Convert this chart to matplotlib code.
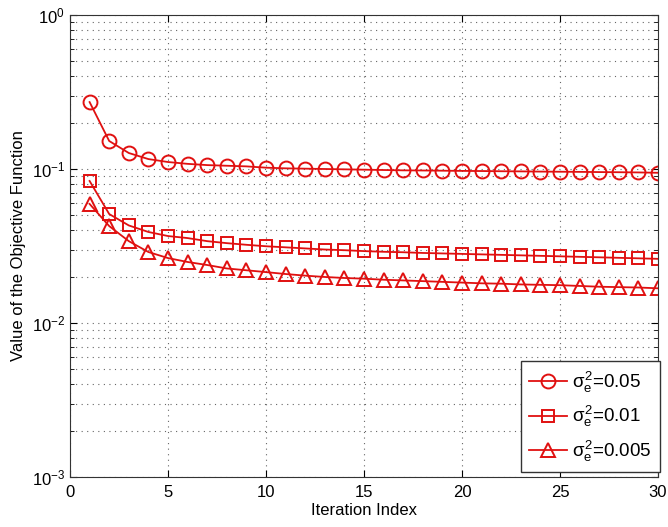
import matplotlib
matplotlib.use("Agg")
import matplotlib.pyplot as plt
from matplotlib.ticker import LogLocator, NullFormatter

iterations = list(range(1, 31))
obj_005 = [0.272, 0.152, 0.127, 0.116, 0.111, 0.108, 0.106, 0.105, 0.104, 0.102,
           0.101, 0.1005, 0.100, 0.0995, 0.099, 0.0985, 0.098, 0.0978, 0.0975, 0.0972,
           0.097, 0.0967, 0.0965, 0.0962, 0.096, 0.0958, 0.0955, 0.0953, 0.095, 0.0945]
obj_001 = [0.0836, 0.051, 0.043, 0.039, 0.0367, 0.0356, 0.034, 0.033, 0.0322, 0.0315,
           0.031, 0.0305, 0.030, 0.0297, 0.0293, 0.029, 0.0288, 0.0285, 0.0283, 0.0281,
           0.0279, 0.0277, 0.0275, 0.0273, 0.0271, 0.0269, 0.0267, 0.0265, 0.0263, 0.0261]
obj_0005 = [0.0593, 0.0426, 0.034, 0.0289, 0.0264, 0.0249, 0.0238, 0.0226, 0.022, 0.0214,
            0.0208, 0.0203, 0.0199, 0.0196, 0.0194, 0.0191, 0.0189, 0.0187, 0.0185, 0.0183,
            0.0181, 0.018, 0.0178, 0.0177, 0.0176, 0.0174, 0.0172, 0.0171, 0.017, 0.0168]
labels = [r'$\sigma_e^2$=0.05', r'$\sigma_e^2$=0.01', r'$\sigma_e^2$=0.005']

plt.rcParams['font.family'] = ['Liberation Sans', 'DejaVu Sans']
plt.rcParams['mathtext.fontset'] = 'custom'
plt.rcParams['mathtext.rm'] = 'Liberation Sans'
plt.rcParams['mathtext.it'] = 'Liberation Sans'

W, H = 668, 527
fig = plt.figure(figsize=(W/100, H/100), dpi=100)
ax = fig.add_axes([70/W, 1-477/H, 588/W, 462/H])
red = '#e01010'
mk = dict(color=red, lw=1.3, markerfacecolor='none', markeredgewidth=1.4)
ax.plot(iterations, obj_005, marker='o', markersize=10, label=labels[0], **mk)
ax.plot(iterations, obj_001, marker='s', markersize=8, label=labels[1], **mk)
ax.plot(iterations, obj_0005, marker='^', markersize=10, label=labels[2], **mk)

ax.set_yscale('log')
ax.set_xlim(0, 30)
ax.set_ylim(1e-3, 1)
ax.set_xticks([0, 5, 10, 15, 20, 25, 30])
ax.yaxis.set_minor_locator(LogLocator(base=10, subs=range(2, 10)))
ax.yaxis.set_minor_formatter(NullFormatter())
ax.grid(True, which='major', linestyle=(0, (1, 4)), color='#666666', lw=0.8)
ax.grid(True, which='minor', axis='y', linestyle=(0, (1, 4)), color='#666666', lw=0.8)
ax.tick_params(which='both', direction='in', labelsize=12, top=True, right=True)
ax.tick_params(which='major', length=5)
ax.tick_params(which='minor', length=3)
ax.tick_params(axis='x', pad=6)
for s in ax.spines.values():
    s.set_color('#333333')
ax.set_xlabel('Iteration Index', fontsize=12, labelpad=2)
ax.set_ylabel('Value of the Objective Function', fontsize=12, labelpad=4)
leg = ax.legend(loc='lower right', bbox_to_anchor=(660/W, 1-472/H),
                bbox_transform=fig.transFigure, fontsize=13.5, fancybox=False,
                edgecolor='#333333', framealpha=1, handlelength=2.0,
                borderaxespad=0, labelspacing=0.5, borderpad=0.45, handletextpad=0.3)
leg.get_frame().set_linewidth(1.0)
fig.savefig('out.png', dpi=100)
